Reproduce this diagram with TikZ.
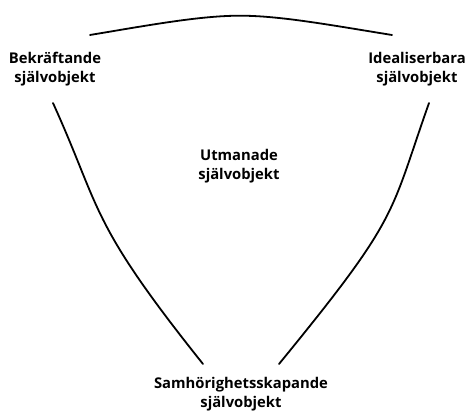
\documentclass[tikz,border=0pt]{standalone}
\usepackage{fontspec}
\setmainfont{Open Sans}
\tikzstyle{selfobj} = [align=center, inner sep=0pt, font=\fontsize{14.8}{19}\selectfont\bfseries]
\tikzstyle{bond} = [line width=1.8pt, line cap=round]

\begin{document}
\begin{tikzpicture}[x=1pt, y=1pt, node distance=362pt]
\useasboundingbox (0,0) rectangle (466,412);

\node (bek) [selfobj] at (55,343) {Bekräftande\\självobjekt};
\node (ideal) [selfobj, right of=bek] {Idealiserbara\\självobjekt};
\node (utm) [selfobj] at (239,246) {Utmanade\\självobjekt};
\node (sam) [selfobj] at (241,18) {Samhörighetsskapande\\självobjekt};

% ends of the three curves
\coordinate (bek-top) at (90,377);
\coordinate (ideal-top) at (392,377);
\coordinate (bek-foot) at (53,309);
\coordinate (ideal-foot) at (429,309);
\coordinate (sam-left) at (203,48);
\coordinate (sam-right) at (279,48);

\draw [bond] (bek-top) .. controls (150,387) and (200,396.3) .. (240,396.3)
  .. controls (280,396.3) and (330,387) .. (ideal-top);
\draw [bond] (bek-foot) .. controls (102,201) and (88,192) .. (sam-left);
\draw [bond] (ideal-foot) .. controls (389,196) and (401,197) .. (sam-right);
\end{tikzpicture}
\end{document}
